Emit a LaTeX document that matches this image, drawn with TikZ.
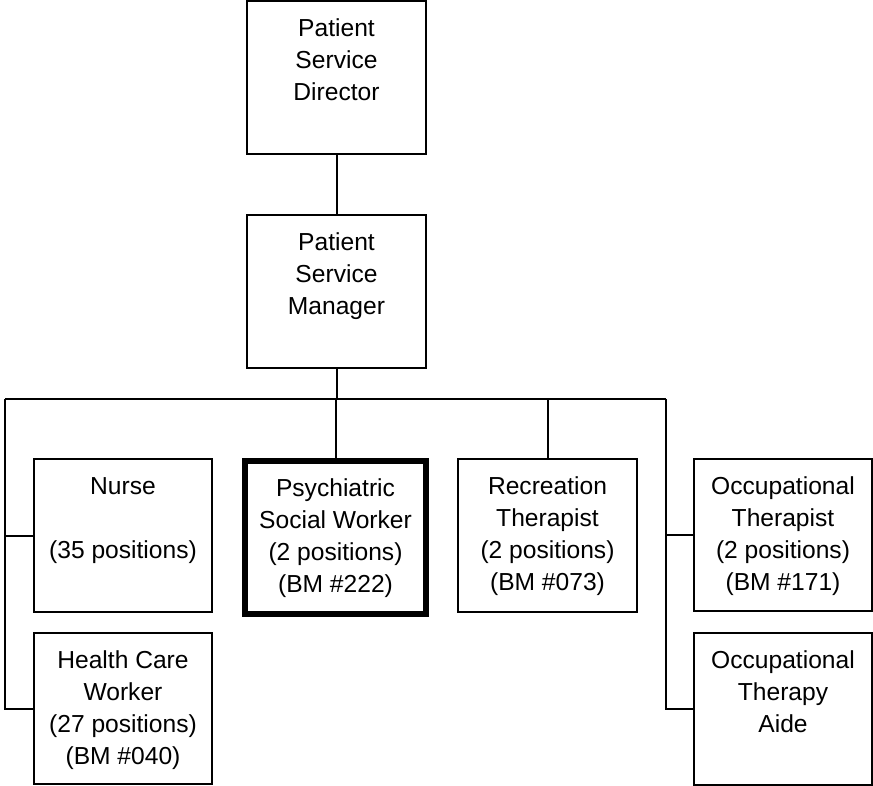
\documentclass[tikz,border=0pt]{standalone}
\usepackage{fontspec}
\setmainfont{Liberation Sans}
\begin{document}
\begin{tikzpicture}[x=1pt,y=-1pt,
  box/.style={draw,line width=2pt,rectangle,inner sep=0pt},
  thickbox/.style={draw,line width=6pt,rectangle,inner sep=0pt},
  lbl/.style={anchor=north,inner sep=0pt,align=center,font=\fontsize{24.6}{32}\selectfont,yshift=-14pt},
  conn/.style={line width=2pt}]
\useasboundingbox (0,0) rectangle (873,786);
% boxes
\node[box,minimum width=179pt,minimum height=153pt] (dir) at (336.5,77.5) {};
\node[box,minimum width=179pt,minimum height=153pt] (mgr) at (336.5,291.5) {};
\node[box,minimum width=178pt,minimum height=153pt] (nurse) at (123,535.5) {};
\node[box,minimum width=178pt,minimum height=151pt] (hcw) at (123,708.5) {};
\node[thickbox,minimum width=181pt,minimum height=153pt] (psw) at (335.5,537.5) {};
\node[box,minimum width=179pt,minimum height=153pt] (rec) at (547.5,535.5) {};
\node[box,minimum width=178pt,minimum height=152pt] (ot) at (783,535) {};
\node[box,minimum width=178pt,minimum height=152pt] (ota) at (783,709) {};
% texts
\node[lbl] (tdir) at (dir.north) {\strut Patient\\Service\\Director};
\node[lbl] (tmgr) at (mgr.north) {\strut Patient\\Service\\Manager};
\node[lbl] (tnurse) at (nurse.north) {\strut Nurse\\[32pt](35 positions)};
\node[lbl] (thcw) at (hcw.north) {\strut Health Care\\Worker\\(27 positions)\\(BM \#040)};
\node[lbl,yshift=-1.5pt] (tpsw) at (psw.north) {\strut Psychiatric\\Social Worker\\(2 positions)\\(BM \#222)};
\node[lbl] (trec) at (rec.north) {\strut Recreation\\Therapist\\(2 positions)\\(BM \#073)};
\node[lbl] (tot) at (ot.north) {\strut Occupational\\Therapist\\(2 positions)\\(BM \#171)};
\node[lbl] (tota) at (ota.north) {\strut Occupational\\Therapy\\Aide};
% connectors
\coordinate (busL) at (5,399);
\coordinate (busR) at (666,399);
\coordinate (busC) at (mgr.south |- busL);
\draw[conn] (dir.south) -- (mgr.north);
\draw[conn] (mgr.south) -- (busC);
\draw[conn] (busL) -- (busR);
\draw[conn] (psw.north |- busL) -- (psw.north);
\draw[conn] (rec.north |- busL) -- (rec.north);
\draw[conn] (busL) -- (busL |- hcw.west) -- (hcw.west);
\draw[conn] (busL |- nurse.west) -- (nurse.west);
\draw[conn] (busR) -- (busR |- ota.west) -- (ota.west);
\draw[conn] (busR |- ot.west) -- (ot.west);
\end{tikzpicture}
\end{document}
